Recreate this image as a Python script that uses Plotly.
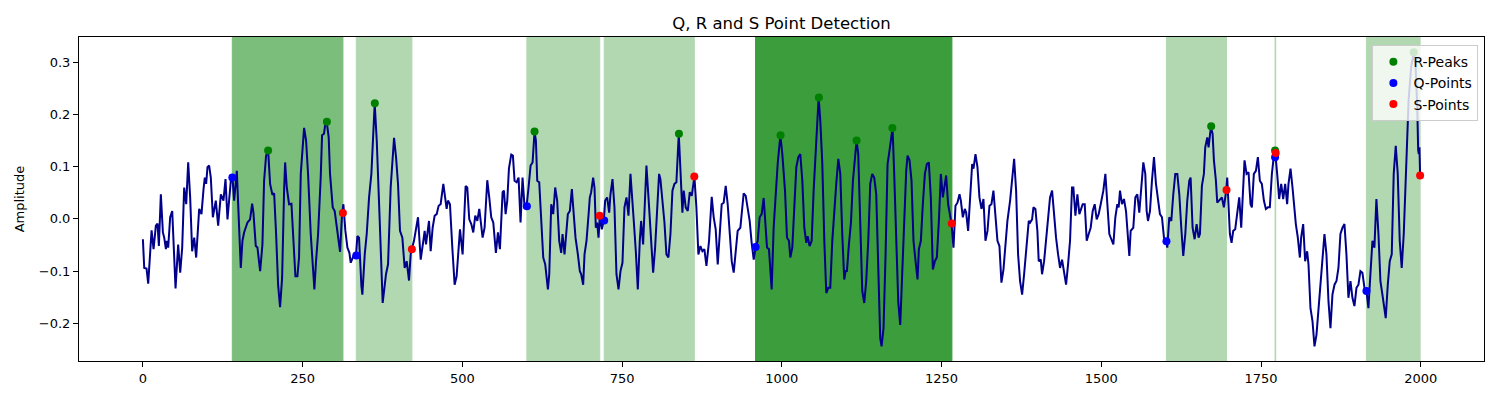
import plotly.graph_objects as go

# ECG trace (sample index, amplitude)
t = [0, 2.1, 5.7, 8.3, 13.6, 16.7, 20.3, 22.9, 25, 28.1, 31.3, 33.4, 36, 37.5, 39.6, 42.7, 45.9, 48, 51.1, 55.2,
     58.4, 61.5, 64.6, 67.8, 70.9, 74, 77.1, 80.3, 83.4, 88.1, 91.7, 94.9, 96.9, 99, 101.1, 103.7, 106.3, 109.5, 111.5, 114.1,
     117.8, 122, 126.1, 129.3, 132.4, 135, 137.6, 140.2, 142.8, 147, 149.1, 153.2, 155.8, 158.4, 163.7, 167.8, 171, 173, 176.7, 179.3,
     183.5, 187.1, 189.7, 192.8, 196, 199.1, 202.7, 205.4, 208.5, 211.6, 214.7, 217.9, 221, 222.6, 225.2, 228.8, 232.5, 235.6, 238.7, 241.8,
     244.4, 247.1, 250.2, 252.3, 255.4, 258.5, 262.7, 265.3, 268.4, 271, 274.2, 278.3, 280.4, 283.5, 285.6, 287.7, 290.8, 292.9, 295, 297.1,
     300.2, 303.4, 306.5, 308.6, 311.7, 313.8, 316.9, 320.1, 323.2,
     325.3, 330.5, 333.6, 335.7, 338.3, 342, 343.5, 347.2, 350.3, 354, 357.6, 362.8, 366, 370.1, 375.3, 380.5, 383.7, 387.8, 391, 393.1,
     396.2, 399.3, 402.4, 406.1, 409.7, 412.9, 416.5, 419.1, 421.2, 424.3, 430.6, 434.8, 438.9, 441, 443.1, 445.2, 447.8, 450.4, 453.5, 456.6,
     459.8, 462.9, 466, 470.2, 473.3, 475.4, 477.5, 480.6, 484.3, 487.9, 491, 494.2, 496.3, 500.4, 505.1, 507.7, 510.8, 514, 517.1, 520.2,
     523.4, 526.5, 528.6, 531.7, 534.8, 539, 542.1, 545.2, 548.4, 552.5, 555.7, 558.8, 563, 565.1, 567.7, 570.3, 572.9, 576.5, 579.1, 581.7,
     584.9, 588, 591.1, 594.2, 597.4, 600.5, 603.6, 606.8, 609.9, 613, 615.1, 617.2, 620.3, 623.4, 626.6, 629.7, 633.9, 636, 639.1, 642.2,
     645.3, 648.4, 651.6, 654.7, 656.8, 659.9, 663, 665.1, 668.2, 671.4, 673.5, 677.1, 680.8, 683.9,
     686, 689.1, 691.2, 694.3, 697.4, 699.5, 701.6, 704.7, 706.8, 708.9, 711, 713.1, 715.2, 718.3, 721.4, 723.5, 726.6, 729.8, 731.8, 735,
     738.1, 741.2, 744.4, 747.5, 750.6, 753.7, 756.9, 760, 763.1, 766.2, 768.3, 771.5, 774.6, 777.7, 779.8, 782.9, 786.1, 788.1, 791.3, 794.4,
     798.6, 801.7, 804.8, 807.9, 810, 813.2, 816.3, 819.4, 822.5, 825.7, 828.8, 831.9, 835, 838.7, 841.3, 844.4, 846.5, 849.6, 852.8, 855.9,
     859, 861.1, 863.2, 866.3, 869.4, 872.6, 875.7, 878.8, 882, 886.1, 890.3, 893.4, 896.5, 899.7, 902.8, 905.9, 909, 912.2, 915.3, 918.4,
     921.6, 924.7, 927.8, 930.9, 935.1, 938.2, 940.3, 943.5, 946.6, 949.7, 952.8, 956, 959.1, 962.2, 965.3, 968.5, 971.6, 974.7, 976.8, 979.9,
     984.1, 987.2, 990.4, 993.5, 997.7, 1000.8, 1005, 1008.1, 1011.2,
     1013.3, 1016.4, 1019.6, 1022.7, 1025.8, 1028.9, 1032.1, 1035.2, 1038.3, 1040.4, 1043.5, 1046.7, 1049.8, 1052.9, 1055, 1057.6, 1060.2,
     1063.3, 1066.5, 1069.6, 1072.7, 1075.8, 1079, 1082.1, 1085.2, 1088.4, 1091.5, 1094.6, 1097.7, 1099.8, 1101.9, 1105, 1108.2, 1111.3,
     1115.5, 1117, 1119.6, 1122.8, 1125.9, 1129, 1132.1, 1135.3, 1138.4, 1141.5, 1144.6, 1147.8, 1150.9, 1154, 1156.1, 1159.2, 1162.4,
     1165.5, 1168.6, 1173.3, 1175.9, 1179, 1182.2, 1185.3, 1188.4, 1191.5, 1194.7, 1196.8, 1199.9, 1203, 1206.1, 1209.3, 1212.4, 1214.5,
     1217.6, 1220.7, 1223.9, 1227, 1230.1, 1233.2, 1236.4, 1239.5, 1242.6, 1245.8, 1248.9, 1252, 1254.1, 1257.2, 1260.3, 1263.5, 1265.6,
     1268.7, 1271.8, 1274.9, 1278.1, 1280.2, 1283.3, 1286.4, 1288.5, 1291.6, 1294.7, 1297.9, 1300, 1303.1, 1306.2, 1309.3, 1312.5, 1315.6,
     1318.7, 1321.9, 1325, 1328.1, 1331.2, 1334.4, 1337.5, 1340.6, 1343.7, 1346.9, 1350, 1353.1, 1357.3,
     1360.4, 1363.6, 1366.7, 1369.8, 1372.9, 1376.1, 1379.2, 1383.4, 1386.5, 1388.6, 1391.7, 1393.8, 1396.9, 1400, 1402.1, 1405.3, 1407.3,
     1410.5, 1413.6, 1416.7, 1419.8, 1423, 1426.1, 1429.2, 1432.4, 1435.5, 1438.6, 1441.7, 1444.9, 1448, 1451.1, 1454.2, 1456.3, 1459.5,
     1462.6, 1465.7, 1468.8, 1470.9, 1474.1, 1477.2, 1480.3, 1483.4, 1486.6, 1489.7, 1492.8, 1495.9, 1499.1, 1503.2, 1506.4, 1509.5, 1512.6,
     1515.7, 1518.9, 1522, 1525.1, 1527.2, 1529.3, 1532.4, 1535.5, 1538.7, 1541.8, 1543.9, 1546, 1550.1, 1553.3, 1556.4, 1559.5, 1562.6,
     1565.8, 1568.9, 1571, 1573.1, 1576.2, 1579.3, 1582.5, 1585.6, 1588.7, 1591.8, 1595, 1598.1, 1601.7, 1603.3, 1606.4, 1609.6, 1612.7,
     1615.8, 1619, 1622.1, 1625.2, 1628.3, 1631.5, 1634.6, 1637.7, 1639.8, 1642.9, 1646.1, 1649.2, 1652.3, 1654.4, 1657.5, 1660.6, 1662.7,
     1665.9, 1667.9, 1671.6, 1674.2, 1676.3, 1679.4, 1681.5, 1685.7, 1688.8, 1691.9, 1695.6, 1697.1,
     1701.3, 1703.9, 1706.5, 1709.6, 1712.8, 1715.9, 1719, 1721.1, 1724.2, 1727.4, 1730.5, 1733.6, 1735.7, 1738.8, 1742, 1745.1, 1748.2,
     1751.3, 1754.5, 1757.6, 1760.7, 1763.8, 1767, 1770.1, 1772.2, 1775.3, 1778.4, 1781.6, 1784.7, 1787.8, 1790.9, 1793, 1796.2, 1799.3,
     1802.4, 1804.5, 1807.6, 1810.8, 1812.8, 1816, 1819.1, 1822.2, 1824.3, 1827.4, 1830.6, 1833.7, 1836.8, 1839.9, 1843.1, 1846.2, 1849.3,
     1852.4, 1855.6, 1858.7, 1861.8, 1865, 1868.1, 1871.2, 1874.3, 1877.5, 1880.6, 1883.7, 1886.8, 1890, 1893.1, 1896.2, 1899.4, 1902.5,
     1905.6, 1908.7, 1911.9, 1915, 1918.1, 1921.2, 1924.4, 1927.5, 1930.6, 1933.8, 1936.9, 1940, 1943.1, 1945.2, 1948.4, 1951.5, 1954.6,
     1957.7, 1960.9, 1964, 1967.1, 1970.2, 1973.4, 1977, 1981, 1985, 1989, 1992, 1994.5, 1996, 1997, 1998, 1999]

amp = [-0.039, -0.094, -0.095, -0.124, -0.022, -0.058, -0.013, -0.009, -0.052, 0.047, -0.026, -0.036, -0.058, -0.042, -0.055, 0.003, 0.015, -0.042, -0.133, -0.049,
       -0.103, -0.055, 0.060, 0.028, 0.108, 0.041, -0.062, -0.036, -0.074, 0.019, 0.009, 0.057, 0.079, 0.067, 0.099, 0.102, 0.079, 0.003, 0.019, 0.035,
       -0.013, 0.047, 0.035, 0.076, -0.001, 0.041, 0.073, 0.079, 0.035, 0.092, 0.022, -0.094, -0.042, -0.026, -0.007, -0.001, 0.029, 0.012, -0.052, -0.055,
       -0.100, -0.049, 0.073, 0.121, 0.131, 0.067, 0.046, 0.049, -0.029, -0.126, -0.169, -0.113, 0.054, 0.108, 0.060, 0.028, 0.029, -0.055, -0.110, -0.110,
       -0.074, 0.086, 0.144, 0.174, 0.150, 0.086, -0.029, -0.081, -0.135, -0.081, -0.029, 0.079, 0.160, 0.163, 0.183, 0.186, 0.156, 0.086, 0.054, 0.022,
       0.015, -0.017, -0.042, -0.063, 0.009, 0.028, -0.023, -0.055, -0.065,
       -0.084, -0.068, -0.069, -0.033, -0.036, -0.129, -0.145, -0.068, -0.029, 0.041, 0.086, 0.221, 0.150, 0.015, -0.161, -0.106, -0.087, 0.060, 0.118, 0.155,
       0.118, 0.067, -0.023, -0.036, -0.094, -0.081, -0.118, -0.068, -0.056, -0.042, 0.003, -0.078, -0.042, -0.023, -0.049, -0.026, -0.004, -0.062, -0.017, 0.006,
       0.009, 0.025, 0.028, 0.067, 0.041, 0.019, 0.035, 0.028, -0.055, -0.126, -0.110, -0.042, -0.020, -0.068, 0.063, 0.060, -0.001, -0.010, -0.026, 0.006,
       -0.004, 0.019, -0.007, -0.036, -0.017, 0.074, 0.041, 0.003, -0.007, -0.065, -0.026, -0.058, 0.051, 0.054, 0.009, 0.035, 0.096, 0.123, 0.121, 0.073,
       0.070, 0.079, -0.007, 0.079, 0.022, 0.024, 0.060, 0.102, 0.108, 0.167, 0.150, 0.073, 0.070, 0.003, -0.074, -0.087, -0.135, -0.106, 0.028, 0.009,
       0.060, 0.035, -0.042, -0.065, -0.029, -0.068, -0.026, 0.009, 0.015, 0.057, 0.022, -0.036, -0.068, -0.100,
       -0.106, -0.126, -0.068, -0.042, 0.006, 0.041, 0.051, 0.079, 0.060, -0.017, -0.007, -0.036, 0.006, -0.020, -0.003, 0.035, 0.041, 0.012, 0.047, 0.076,
       0.022, -0.106, -0.135, -0.100, -0.084, 0.022, 0.041, 0.006, 0.086, 0.041, -0.004, -0.062, -0.135, -0.042, -0.004, -0.049, 0.035, 0.102, 0.041, -0.029,
       -0.103, -0.055, 0.028, 0.086, 0.076, 0.035, -0.007, -0.068, -0.074, -0.029, 0.054, 0.067, 0.070, 0.163, 0.079, 0.012, 0.054, 0.022, 0.015, 0.051,
       0.044, 0.060, 0.081, 0.022, -0.068, -0.052, -0.062, -0.058, -0.090, -0.042, 0.042, 0.003, -0.020, -0.087, -0.036, 0.028, 0.031, 0.063, 0.028, -0.023,
       -0.081, -0.103, -0.058, -0.023, -0.017, 0.022, 0.049, 0.044, 0.022, -0.004, -0.046, -0.078, -0.054, -0.042, 0.003, 0.009, 0.040, -0.017, -0.055, -0.058,
       -0.135, -0.017, 0.054, 0.105, 0.160, 0.124, 0.054, -0.036, -0.042,
       -0.074, -0.055, 0.022, 0.099, 0.118, 0.124, 0.073, -0.017, -0.046, -0.033, -0.052, -0.042, 0.054, 0.131, 0.182, 0.232, 0.188,
       0.108, -0.042, -0.142, -0.132, -0.132, -0.042, 0.022, 0.067, 0.115, 0.086, -0.029, -0.116, -0.100, -0.100, -0.049, -0.007, 0.073,
       0.144, 0.150, 0.124, 0.009, -0.138, -0.161, -0.119, -0.042, 0.067, 0.086, 0.079, 0.047, -0.119, -0.228, -0.244, -0.209, -0.068,
       0.105, 0.131, 0.174, 0.086, -0.042, -0.158, -0.203, -0.106, 0.009, 0.092, 0.121, 0.112, 0.073, -0.042, -0.081, -0.116, -0.058,
       -0.042, 0.028, 0.086, 0.105, 0.108, 0.041, -0.097, -0.081, -0.074, -0.004, 0.086, 0.041, 0.060, 0.083, 0.028, 0.009, -0.009,
       -0.055, 0.025, 0.031, 0.047, 0.035, 0.003, 0.019, 0.012, -0.023, 0.054, 0.105, 0.096, 0.124, 0.099, 0.041, 0.019, 0.038,
       -0.042, -0.023, 0.025, 0.028, 0.054, 0.003, -0.042, -0.052, -0.122, -0.097, -0.049, -0.004, 0.035,
       0.073, 0.115, 0.054, -0.068, -0.119, -0.145, -0.106, -0.049, -0.004, -0.007, -0.001, 0.022, 0.019, -0.023, -0.081, -0.078, -0.106,
       -0.081, -0.036, 0.006, 0.041, 0.054, 0.003, -0.036, -0.068, -0.094, -0.078, -0.100, -0.126, -0.087, -0.042, 0.060, 0.060, 0.006,
       0.047, 0.009, 0.022, 0.028, 0.028, -0.042, -0.029, -0.017, 0.015, 0.028, -0.001, 0.009, 0.028, 0.054, 0.086, 0.028, -0.029,
       -0.039, -0.049, 0.003, 0.028, 0.022, 0.054, 0.028, 0.038, 0.015, -0.042, -0.071, -0.023, -0.017, 0.041, 0.047, 0.012, 0.060,
       0.108, 0.086, 0.015, -0.004, 0.015, 0.073, 0.118, 0.067, 0.041, 0.009, 0.003, -0.036, -0.043, -0.055, 0.003, -0.004, 0.047,
       0.086, 0.086, 0.047, -0.017, -0.071, -0.029, 0.035, 0.073, 0.079, -0.017, -0.039, -0.010, -0.036, -0.029, 0.063, 0.086, 0.137,
       0.156, 0.137, 0.176, 0.163, 0.112, 0.073, 0.031, 0.038, 0.041, 0.022, 0.055, 0.079,
       -0.029, -0.046, -0.023, -0.020, 0.015, 0.041, -0.017, 0.041, 0.112, 0.086, 0.089, 0.028, 0.022, 0.086, 0.092, 0.118, 0.073,
       0.067, 0.035, 0.019, 0.022, 0.022, 0.086, 0.121, 0.128, 0.086, 0.038, 0.067, 0.038, 0.067, 0.028, 0.067, 0.096, 0.060,
       0.015, -0.010, -0.036, -0.074, -0.036, -0.010, -0.081, -0.062, -0.087, -0.171, -0.196, -0.244, -0.222, -0.171, -0.132, -0.074, -0.029,
       -0.068, -0.158, -0.209, -0.145, -0.126, -0.119, -0.094, -0.029, -0.017, -0.010, -0.068, -0.151, -0.119, -0.151, -0.167, -0.132, -0.126,
       -0.100, -0.103, -0.132, -0.138, -0.171, -0.106, -0.042, -0.055, 0.038, -0.029, -0.119, -0.145, -0.171, -0.190, -0.126, -0.081, -0.068,
       0.086, 0.140, 0.086, -0.042, -0.094, -0.029, 0.099, 0.227, 0.291, 0.317, 0.291, 0.214, 0.131, 0.124, 0.137, 0.083]

r_x = [196, 288, 363, 613, 839, 998, 1058, 1117, 1173, 1672, 1772, 1989]
r_y = [0.131, 0.186, 0.221, 0.167, 0.163, 0.160, 0.232, 0.150, 0.174, 0.177, 0.131, 0.319]
q_x = [140, 334, 601, 722, 959, 1602, 1772, 1915]
q_y = [0.079, -0.070, 0.024, -0.003, -0.054, -0.043, 0.118, -0.138]
s_x = [313, 421, 715, 863, 1266, 1696, 1773, 1999]
s_y = [0.011, -0.058, 0.006, 0.081, -0.009, 0.055, 0.126, 0.083]

fig = go.Figure()

# shaded QRS window around each R peak (nearest Q before, nearest S after)
for r in r_x:
    q0 = max(q for q in q_x if q <= r)
    s0 = min(s for s in s_x if s >= r)
    fig.add_vrect(x0=q0, x1=s0, fillcolor="green", opacity=0.3, layer="below",
                  line=dict(color="green", width=1))

fig.add_trace(go.Scatter(x=t, y=amp, mode="lines", line=dict(color="darkblue", width=2),
                         showlegend=False, hoverinfo="skip"))
fig.add_trace(go.Scatter(x=r_x, y=r_y, mode="markers", name="R-Peaks",
                         marker=dict(color="green", size=8)))
fig.add_trace(go.Scatter(x=q_x, y=q_y, mode="markers", name="Q-Points",
                         marker=dict(color="blue", size=8)))
fig.add_trace(go.Scatter(x=s_x, y=s_y, mode="markers", name="S-Points",
                         marker=dict(color="red", size=8)))

axis_style = dict(showgrid=False, zeroline=False, showline=True, mirror=True, linecolor="black",
                  linewidth=1, ticks="outside", ticklen=5, tickcolor="black", automargin=False,
                  tickfont=dict(size=13, color="black"))

# page body adds ~8px offset, so the figure is a bit smaller than the window
fig.update_layout(
    width=1484, height=384,
    margin=dict(l=71, r=8, t=29, b=31),
    plot_bgcolor="white", paper_bgcolor="white",
    font=dict(family="DejaVu Sans", color="black"),
    title=dict(text="Q, R and S Point Detection", x=0.5, xref="paper", xanchor="center",
               y=0.961, yanchor="middle", font=dict(size=16.5)),
    legend=dict(x=0.996, y=0.975, xanchor="right", yanchor="top",
                bgcolor="rgba(255,255,255,0.8)", bordercolor="#cccccc", borderwidth=1,
                font=dict(size=14), tracegroupgap=0),
    showlegend=True,
)
fig.update_xaxes(range=[-100, 2099], tickvals=[0, 250, 500, 750, 1000, 1250, 1500, 1750, 2000], **axis_style)
fig.update_yaxes(range=[-0.272, 0.348], tickvals=[-0.2, -0.1, 0.0, 0.1, 0.2, 0.3], tickformat=".1f",
                 title=dict(text="Amplitude", font=dict(size=13), standoff=11), **axis_style)

fig.write_html("out.html")
